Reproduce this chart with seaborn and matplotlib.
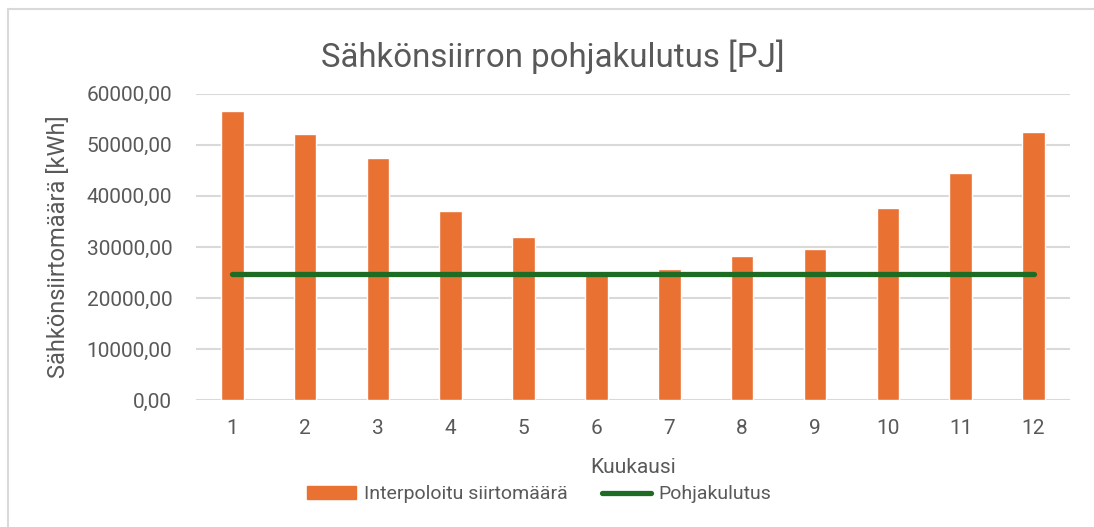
import numpy as np
import pandas as pd
import matplotlib
matplotlib.use('Agg')
import matplotlib.pyplot as plt
import seaborn as sns
from matplotlib.patches import Rectangle
from matplotlib.lines import Line2D
from matplotlib.ticker import FuncFormatter

# Data
months = list(range(1, 13))
siirtomaara = [56700, 52100, 47450, 37100, 31900, 25300, 25700, 28200, 29550, 37650, 44500, 52550]
pohjakulutus = [24750] * 12

title = 'Sähkönsiirron pohjakulutus [PJ]'
xlabel = 'Kuukausi'
ylabel = 'Sähkönsiirtomäärä [kWh]'
bar_label = 'Interpoloitu siirtomäärä'
line_label = 'Pohjakulutus'

orange = '#E97132'
green = '#1E6B24'
text_col = '#595959'
grid_col = '#D9D9D9'

df = pd.DataFrame({'Kuukausi': months, 'Siirto': siirtomaara, 'Pohja': pohjakulutus})

sns.set_style('white')
plt.rcParams['font.family'] = ['Roboto', 'DejaVu Sans']

fig = plt.figure(figsize=(10.94, 5.27), dpi=100)
ax = fig.add_axes([0.179, 0.241, 0.799, 0.581])

sns.barplot(data=df, x='Kuukausi', y='Siirto', color=orange, width=0.31,
            saturation=1, ax=ax, zorder=2)
sns.lineplot(x=np.arange(len(months)), y=df['Pohja'], color=green, linewidth=3.8,
             ax=ax, zorder=3)

ax.set_ylim(0, 60000)
ax.set_xlim(-0.5, 11.5)
ax.set_yticks(np.arange(0, 60001, 10000))
ax.yaxis.set_major_formatter(FuncFormatter(lambda v, p: f'{v:.2f}'.replace('.', ',')))
ax.grid(axis='y', color=grid_col, linewidth=1.5, zorder=0)
ax.set_axisbelow(True)
for s in ax.spines.values():
    s.set_visible(False)
ax.tick_params(axis='both', length=0, labelsize=15, colors=text_col)
ax.tick_params(axis='y', pad=17)
ax.tick_params(axis='x', pad=14)

ax.set_xlabel(xlabel, fontsize=15, color=text_col, labelpad=14)
ax.set_ylabel(ylabel, fontsize=17, color=text_col, labelpad=12)
fig.text(0.505, 0.892, title, fontsize=23.8, color=text_col, ha='center', va='center')

handles = [Rectangle((0, 0), 1, 1, color=orange),
           Line2D([0], [0], color=green, linewidth=3.8, solid_capstyle='round')]
fig.legend(handles, [bar_label, line_label], loc='center', bbox_to_anchor=(0.493, 0.062),
           ncol=2, frameon=False, fontsize=14, labelcolor=text_col,
           handlelength=2.5, handleheight=0.6, handletextpad=0.4, columnspacing=1.8)

# chart area border (only top and left visible in the crop)
fig.add_artist(Line2D([0.0075, 1.0], [0.983, 0.983], transform=fig.transFigure,
                      color=grid_col, linewidth=1.5))
fig.add_artist(Line2D([0.0075, 0.0075], [0.0, 0.983], transform=fig.transFigure,
                      color=grid_col, linewidth=1.5))

fig.savefig('out.png', dpi=100, facecolor='white')
